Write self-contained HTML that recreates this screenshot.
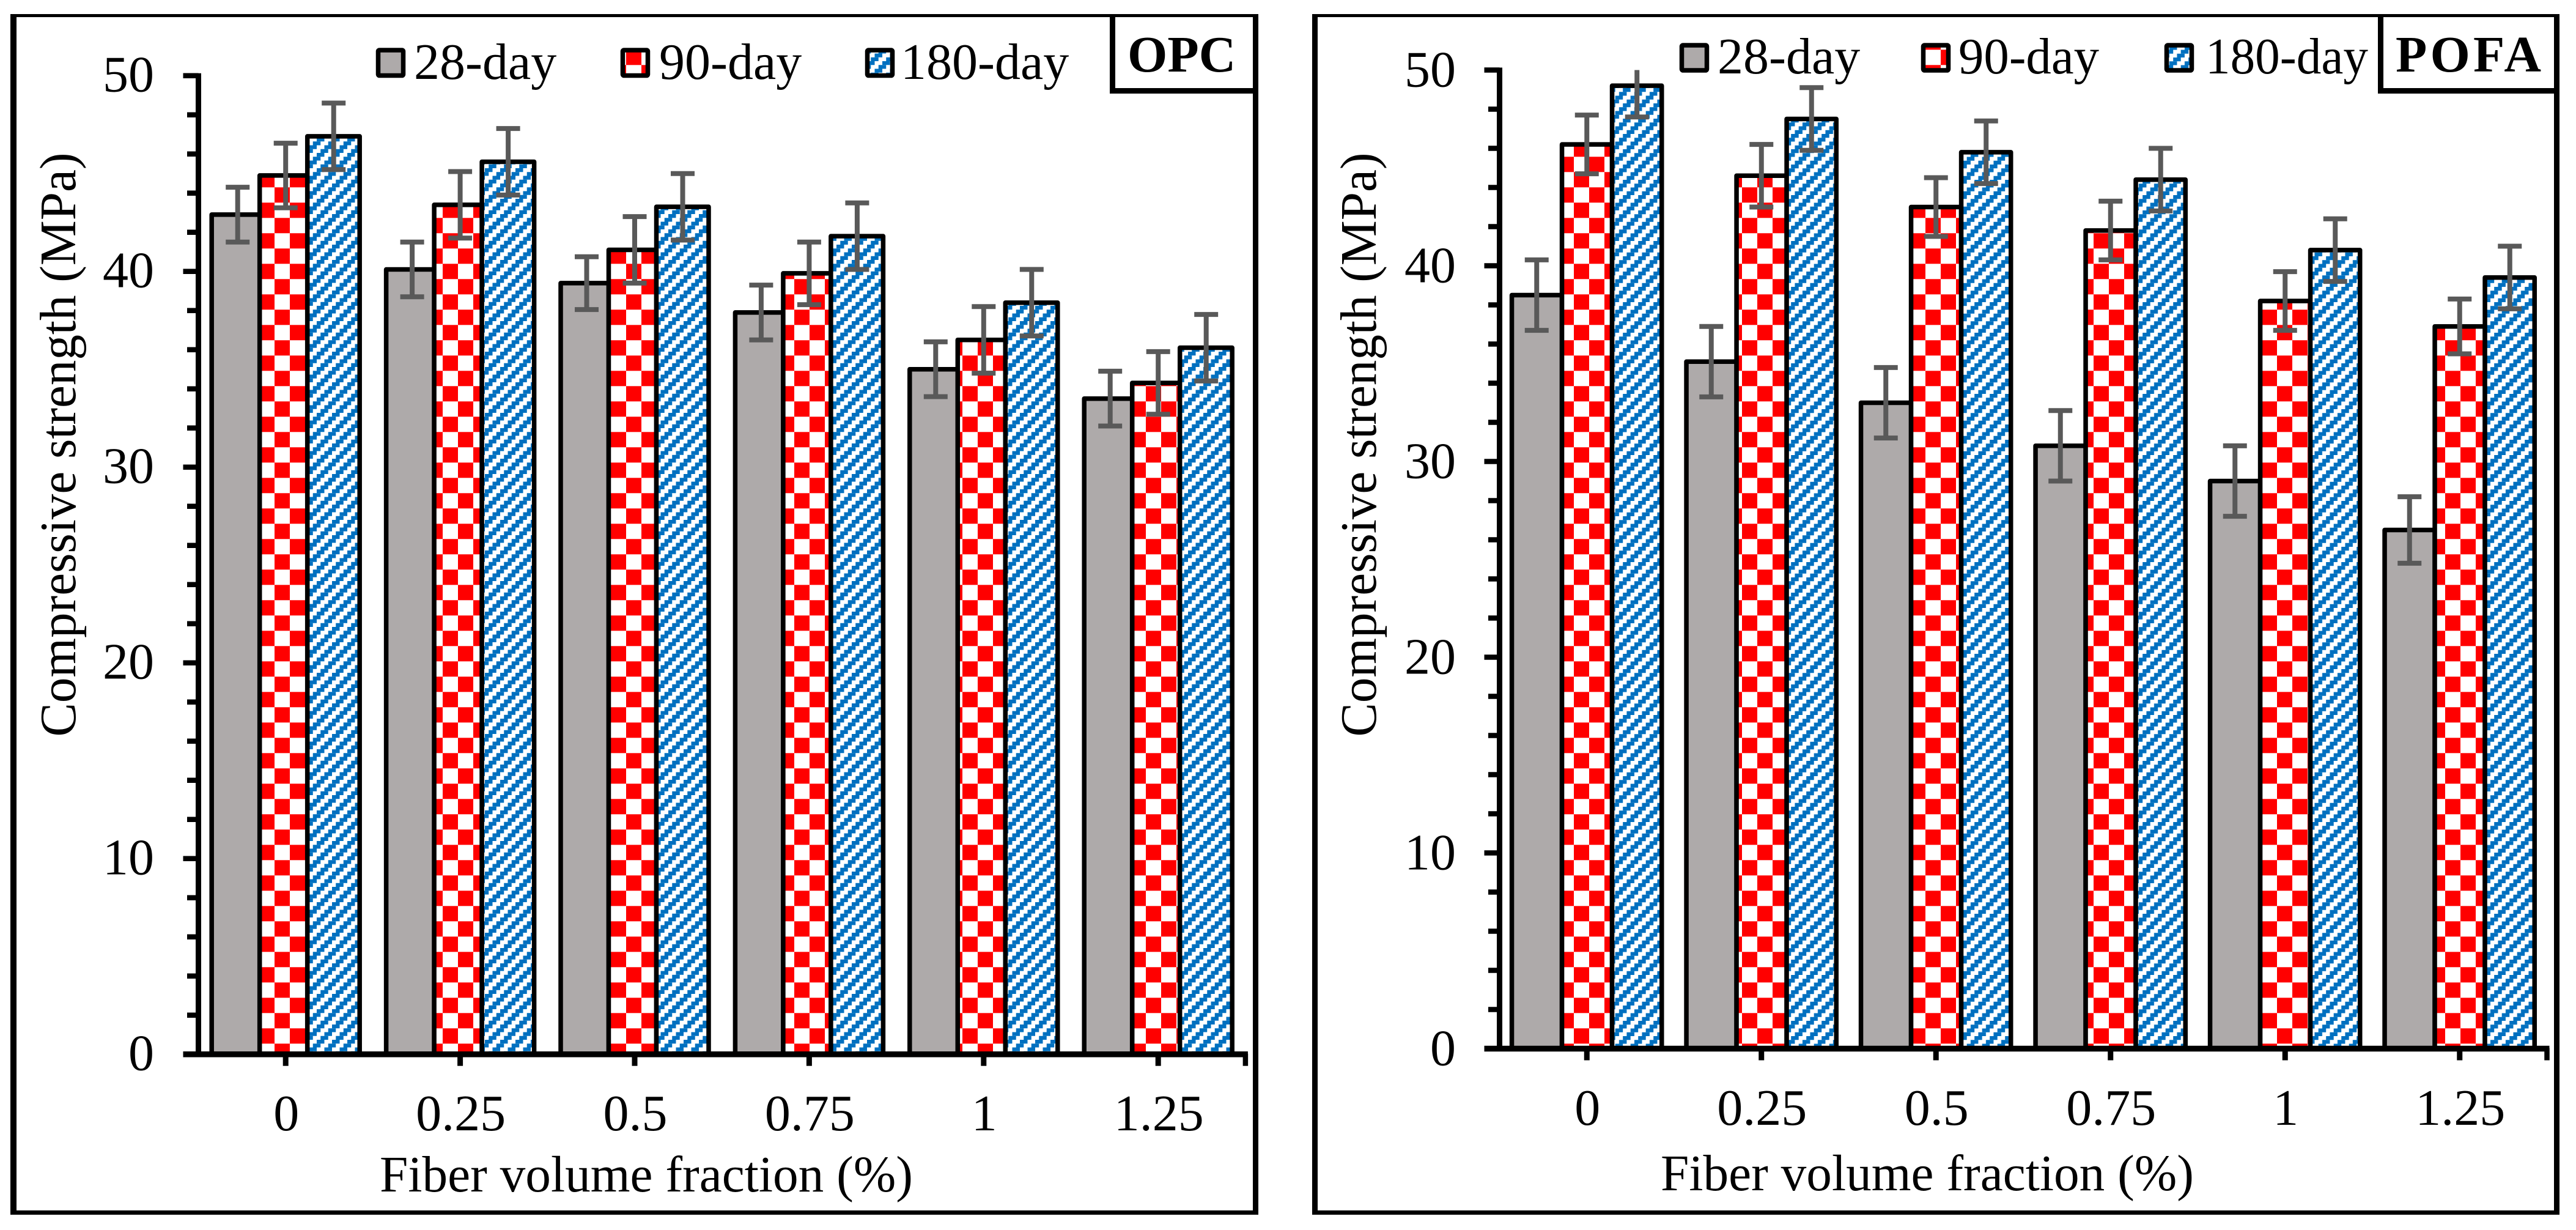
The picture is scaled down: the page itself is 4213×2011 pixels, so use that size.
<!DOCTYPE html>
<html lang="en">
<head>
<meta charset="utf-8">
<title>Compressive strength vs fiber volume fraction</title>
<style>
html,body{margin:0;padding:0;background:#fff;}
svg{display:block;}
text{font-family:"Liberation Serif",serif;fill:#000;font-size:84px;}
</style>
</head>
<body>
<svg id="chart" xmlns="http://www.w3.org/2000/svg" width="4213" height="2011" viewBox="0 0 4213 2011">
  <defs>
    <pattern id="check-l" patternUnits="userSpaceOnUse" x="449" y="1706.3" width="50" height="50">
      <rect width="50" height="50" fill="#fff"/><rect x="0" y="0" width="25" height="25" fill="#f00"/><rect x="25" y="25" width="25" height="25" fill="#f00"/>
    </pattern>
    <pattern id="check-r" patternUnits="userSpaceOnUse" x="3749" y="1706.3" width="50" height="50">
      <rect width="50" height="50" fill="#fff"/><rect x="0" y="0" width="25" height="25" fill="#f00"/><rect x="25" y="25" width="25" height="25" fill="#f00"/>
    </pattern>
    <pattern id="diag-l" patternUnits="userSpaceOnUse" x="805.5" y="1712.5" width="25" height="25">
      <rect width="25" height="25" fill="#fff"/>
      <rect x="0" y="0" width="12.5" height="6.25" fill="#0070c0"/>
      <rect x="18.75" y="6.25" width="6.25" height="6.25" fill="#0070c0"/><rect x="0" y="6.25" width="6.25" height="6.25" fill="#0070c0"/>
      <rect x="12.5" y="12.5" width="12.5" height="6.25" fill="#0070c0"/>
      <rect x="6.25" y="18.75" width="12.5" height="6.25" fill="#0070c0"/>
    </pattern>
    <pattern id="diag-r" patternUnits="userSpaceOnUse" x="3791.7" y="1706.5" width="25" height="25">
      <rect width="25" height="25" fill="#fff"/>
      <rect x="0" y="0" width="12.5" height="6.25" fill="#0070c0"/>
      <rect x="18.75" y="6.25" width="6.25" height="6.25" fill="#0070c0"/><rect x="0" y="6.25" width="6.25" height="6.25" fill="#0070c0"/>
      <rect x="12.5" y="12.5" width="12.5" height="6.25" fill="#0070c0"/>
      <rect x="6.25" y="18.75" width="12.5" height="6.25" fill="#0070c0"/>
    </pattern>
  </defs>
  <rect width="4213" height="2011" fill="#fff"/>

  <g fill="#000">
    <rect x="17" y="23" width="10" height="1963"/>
    <rect x="17" y="23" width="2041" height="5"/>
    <rect x="2049" y="23" width="9" height="1963"/>
    <rect x="17" y="1979" width="2041" height="7"/>
    <rect x="1815" y="23" width="9" height="130"/>
    <rect x="1815" y="144" width="240" height="9"/>
  </g>
  <text x="1844" y="117" font-weight="bold">OPC</text>

  <g fill="#000">
    <rect x="2146" y="23" width="9" height="1963"/>
    <rect x="2146" y="23" width="2040" height="5"/>
    <rect x="4177" y="23" width="9" height="1963"/>
    <rect x="2146" y="1979" width="2040" height="7"/>
    <rect x="3889" y="23" width="9" height="130"/>
    <rect x="3889" y="144" width="295" height="9"/>
  </g>
  <text x="3918" y="117" font-weight="bold" textLength="238">POFA</text>

  <text transform="translate(123,727) rotate(-90)" text-anchor="middle" textLength="955" lengthAdjust="spacingAndGlyphs">Compressive strength (MPa)</text>
  <text transform="translate(2250,727) rotate(-90)" text-anchor="middle" textLength="955" lengthAdjust="spacingAndGlyphs">Compressive strength (MPa)</text>
  <text x="1057" y="1948" text-anchor="middle" textLength="872" lengthAdjust="spacingAndGlyphs">Fiber volume fraction (%)</text>
  <text x="3152" y="1946" text-anchor="middle" textLength="872" lengthAdjust="spacingAndGlyphs">Fiber volume fraction (%)</text>

  <g>
    <rect x="618.5" y="82" width="41" height="41.5" rx="2" fill="#aeaaaa" stroke="#000" stroke-width="7.5"/>
    <text x="677" y="129">28-day</text>
    <rect x="1018.5" y="82" width="41" height="41.5" rx="2" fill="url(#check-l)" stroke="#000" stroke-width="7.5"/>
    <text x="1078" y="129">90-day</text>
    <rect x="1418.5" y="82" width="41" height="41.5" rx="2" fill="url(#diag-l)" stroke="#000" stroke-width="7.5"/>
    <text x="1473" y="129">180-day</text>
  </g>
  <g>
    <rect x="2750.5" y="74" width="41" height="41" rx="2" fill="#aeaaaa" stroke="#000" stroke-width="7.5"/>
    <text x="2809" y="120">28-day</text>
    <rect x="3145.5" y="74" width="41" height="41" rx="2" fill="url(#check-r)" stroke="#000" stroke-width="7.5"/>
    <text x="3203" y="120" textLength="230" lengthAdjust="spacingAndGlyphs">90-day</text>
    <rect x="3543.5" y="74" width="41" height="41" rx="2" fill="url(#diag-r)" stroke="#000" stroke-width="7.5"/>
    <text x="3607" y="120" textLength="266" lengthAdjust="spacingAndGlyphs">180-day</text>
  </g>
</svg>
<script>
const categories = ['0', '0.25', '0.5', '0.75', '1', '1.25'];
const yTickLabels = [0, 10, 20, 30, 40, 50];
const yMinorTicks = [2, 4, 6, 8, 12, 14, 16, 18, 22, 24, 26, 28, 32, 34, 36, 38, 42, 44, 46, 48];
const seriesNames = ['28-day', '90-day', '180-day'];

const opc28 = [42.9, 40.1, 39.4, 37.9, 35.0, 33.5];
const opc90 = [44.9, 43.4, 41.1, 39.9, 36.5, 34.3];
const opc180 = [46.9, 45.6, 43.3, 41.8, 38.4, 36.1];
const opc28Err = [1.4, 1.4, 1.35, 1.4, 1.4, 1.4];
const opc90Err = [1.65, 1.7, 1.7, 1.6, 1.7, 1.6];
const opc180Err = [1.7, 1.7, 1.7, 1.7, 1.7, 1.7];

const pofa28 = [38.5, 35.1, 33.0, 30.8, 29.0, 26.5];
const pofa90 = [46.2, 44.6, 43.0, 41.8, 38.2, 36.9];
const pofa180 = [49.2, 47.5, 45.8, 44.4, 40.8, 39.4];
const pofa28Err = [1.8, 1.8, 1.8, 1.8, 1.8, 1.7];
const pofa90Err = [1.5, 1.6, 1.5, 1.5, 1.5, 1.4];
const pofa180Err = [1.6, 1.6, 1.6, 1.6, 1.6, 1.6];

const yMax = 50;
const NS = 'http://www.w3.org/2000/svg';
const svg = document.getElementById('chart');

function mk(parent, tag, attrs) {
  const el = document.createElementNS(NS, tag);
  for (const k in attrs) el.setAttribute(k, attrs[k]);
  parent.appendChild(el);
  return el;
}

function drawPanel(cfg, values, errors) {
  const yScale = v => cfg.y0 - v * cfg.unit;
  const xCenter = i => cfg.x0 + (i + 0.5) * cfg.step;
  const root = mk(svg, 'g', {});
  
  

  // bars
  values.forEach((series, s) => {
    series.forEach((v, i) => {
      const left = xCenter(i) + cfg.barEdges[s];
      const right = xCenter(i) + cfg.barEdges[s + 1];
      const el = mk(root, 'path', {
        d: 'M' + left + ' ' + cfg.y0 + 'V' + yScale(v) + 'H' + right + 'V' + cfg.y0,
        fill: cfg.fills[s], stroke: '#000', 'stroke-width': 7.5, 'stroke-linejoin': 'round'
      });
      
      
    });
  });

  // error bars
  values.forEach((series, s) => {
    series.forEach((v, i) => {
      const cx = xCenter(i) + cfg.errOffsets[s];
      const hiVal = v + errors[s][i];
      const loVal = v - errors[s][i];
      const g = mk(root, 'g', { stroke: '#595959', 'stroke-width': 8, fill: 'none' });
      
      
      mk(g, 'line', { x1: cx, x2: cx, y1: yScale(Math.min(hiVal, yMax)), y2: yScale(loVal) });
      if (hiVal <= yMax) mk(g, 'line', { x1: cx - 19.5, x2: cx + 19.5, y1: yScale(hiVal), y2: yScale(hiVal) });
      mk(g, 'line', { x1: cx - 19.5, x2: cx + 19.5, y1: yScale(loVal), y2: yScale(loVal) });
    });
  });

  // axes
  const yAxis = mk(root, 'line', { x1: cfg.x0, x2: cfg.x0, y1: yScale(yMax) - 4, y2: cfg.y0, stroke: '#000', 'stroke-width': 9 });
  
  
  const xEnd = cfg.x0 + categories.length * cfg.step;
  const xAxis = mk(root, 'line', { x1: cfg.x0 - 25, x2: xEnd + 4, y1: cfg.y0, y2: cfg.y0, stroke: '#000', 'stroke-width': 9.5 });
  
  

  yMinorTicks.forEach(v => {
    const t = mk(root, 'line', { x1: cfg.x0 - 18.5, x2: cfg.x0, y1: yScale(v), y2: yScale(v), stroke: '#000', 'stroke-width': 8.5 });
    
    
  });
  yTickLabels.forEach(v => {
    const t = mk(root, 'line', { x1: cfg.x0 - 25, x2: cfg.x0, y1: yScale(v), y2: yScale(v), stroke: '#000', 'stroke-width': 8.5 });
    
    
    const l = mk(root, 'text', { x: cfg.yLabelX, y: yScale(v) + cfg.yLabelDy, 'text-anchor': 'end' });
    l.textContent = String(v);
    
    
  });
  categories.forEach((c, i) => {
    const t = mk(root, 'line', { x1: xCenter(i), x2: xCenter(i), y1: cfg.y0, y2: cfg.y0 + cfg.tickLen, stroke: '#000', 'stroke-width': 9 });
    
    
    const l = mk(root, 'text', { x: xCenter(i) + 1, y: cfg.xLabelY, 'text-anchor': 'middle' });
    l.textContent = c;
    
    
  });
  const endTick = mk(root, 'line', { x1: xEnd, x2: xEnd, y1: cfg.y0 - 1, y2: cfg.y0 + cfg.tickLen, stroke: '#000', 'stroke-width': 8.5 });
  
  
}

drawPanel({
  id: 'opc', x0: 324.5, step: 285.4, y0: 1723.7, unit: 32,
  barEdges: [-121, -42.5, 35.5, 121], errOffsets: [-78.5, 0, 78.5],
  fills: ['#aeaaaa', 'url(#check-l)', 'url(#diag-l)'],
  yLabelX: 252, yLabelDy: 26, xLabelY: 1848, tickLen: 19
}, [opc28, opc90, opc180], [opc28Err, opc90Err, opc180Err]);

drawPanel({
  id: 'pofa', x0: 2452.5, step: 285.5, y0: 1714.5, unit: 32,
  barEdges: [-122.7, -40.7, 41.3, 122.5], errOffsets: [-82, 0, 82],
  fills: ['#aeaaaa', 'url(#check-r)', 'url(#diag-r)'],
  yLabelX: 2381, yLabelDy: 27, xLabelY: 1839, tickLen: 19
}, [pofa28, pofa90, pofa180], [pofa28Err, pofa90Err, pofa180Err]);
</script>
</body>
</html>
